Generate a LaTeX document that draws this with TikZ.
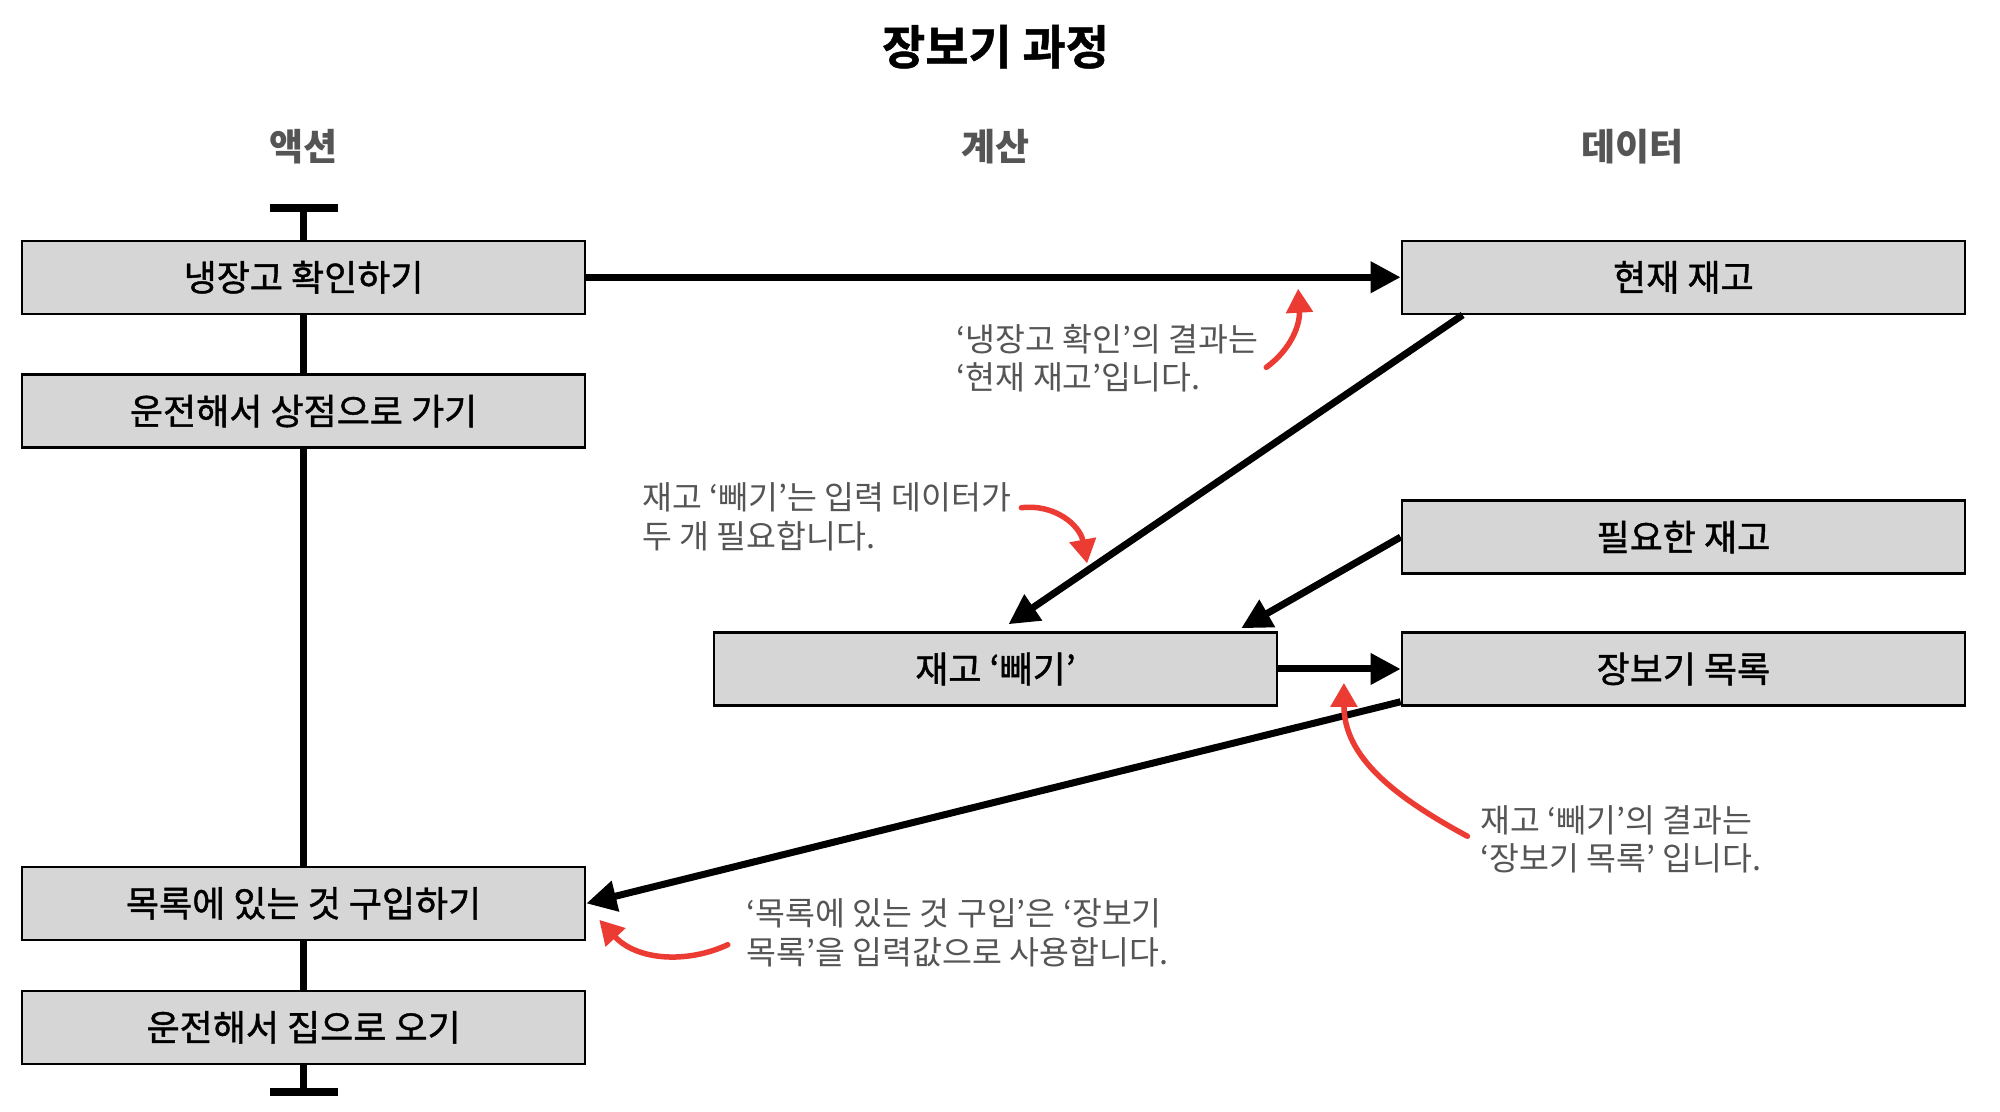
\documentclass[tikz,border=0pt]{standalone}
\usepackage{fontspec}
\setmainfont{Noto Sans CJK KR}
\newfontfamily\medfont[FakeBold=1.2]{Noto Sans CJK KR}
\newfontfamily\titlefont[FakeBold=1]{Noto Sans CJK KR Bold}
\usetikzlibrary{arrows.meta,calc}
\definecolor{boxgray}{RGB}{214,214,214}
\definecolor{txtgray}{RGB}{85,85,85}
\definecolor{annred}{RGB}{235,59,51}
\begin{document}
\begin{tikzpicture}[x=0.9955pt,y=-0.9955pt,
  stepbox/.style={draw=black, line width=2.5pt, fill=boxgray, minimum width=563pt, minimum height=73pt, inner sep=0pt, font=\medfont\fontsize{36}{42}\selectfont},
  flow/.style={line width=7pt, -{Triangle[length=30pt,width=30pt]}},
  redarrow/.style={draw=annred, line width=5.5pt, line cap=round, -{Triangle[length=24pt,width=26pt]}},
  notetext/.style={anchor=west, align=left, text=txtgray, inner sep=0pt, font=\fontsize{32.5}{38.5}\selectfont},
  header/.style={text=txtgray, font=\fontsize{37}{42}\bfseries}
]
\useasboundingbox[fill=white] (0,0) rectangle (2009.04,1116.03);

% title and headers
\node[font=\titlefont\fontsize{47}{54}\selectfont] (title) at (1000,47) {장보기 과정};
\node[header] (h1) at (305,147) {액션};
\node[header] (h2) at (1000,147) {계산};
\node[header] (h3) at (1640,147) {데이터};

% timeline
\coordinate (ttop) at (305,209);
\coordinate (tbot) at (305,1097);
\draw[line width=7pt] (ttop) -- (tbot);
\draw[line width=8pt] ([xshift=-34pt]ttop) -- ([xshift=34pt]ttop);
\draw[line width=8pt] ([xshift=-34pt]tbot) -- ([xshift=34pt]tbot);

% boxes
\node[stepbox] (L1) at (305,278.5) {냉장고 확인하기};
\node[stepbox] (L2) at (305,413) {운전해서 상점으로 가기};
\node[stepbox] (L3) at (305,907.5) {목록에 있는 것 구입하기};
\node[stepbox] (L4) at (305,1032) {운전해서 집으로 오기};
\node[stepbox] (R1) at (1691,278.5) {현재 재고};
\node[stepbox] (R2) at (1691,539.5) {필요한 재고};
\node[stepbox] (R3) at (1691,672) {장보기 목록};
\node[stepbox] (M) at (1000,672) {재고 ‘빼기’};

% flows
\draw[flow] (L1.east) -- (R1.west);
\draw[flow] ([xshift=62pt]R1.south west) -- ([xshift=13pt,yshift=7pt]M.north);
\draw[flow] (R2.west) -- ([xshift=-37pt,yshift=3pt]M.north east);
\draw[flow] (M.east) -- (R3.west);
\draw[flow] ([yshift=5pt]R3.south west) -- (L3.east);

% annotations
\node[notetext] (n1) at (961,360) {‘냉장고 확인’의 결과는\\‘현재 재고’입니다.};
\node[notetext] (n2) at (645,519) {재고 ‘빼기’는 입력 데이터가\\두 개 필요합니다.};
\node[notetext] (n3) at (1487,843) {재고 ‘빼기’의 결과는\\‘장보기 목록’ 입니다.};
\node[notetext] (n4) at (750,937) {‘목록에 있는 것 구입’은 ‘장보기\\목록’을 입력값으로 사용합니다.};

\coordinate (a1s) at (1272,369);
\coordinate (a1e) at (1304,290);
\coordinate (a2s) at (1026,510);
\coordinate (a2e) at (1092,566);
\coordinate (a3s) at (1474,840);
\coordinate (a3e) at (1350,686);
\coordinate (a4s) at (731,949);
\coordinate (a4e) at (602,924);
\draw[redarrow] (a1s) .. controls (1298,350) and (1306,325) .. (a1e);
\draw[redarrow] (a2s) .. controls (1060,506) and (1085,528) .. (a2e);
\draw[redarrow] (a3s) .. controls (1400,800) and (1350,760) .. (a3e);
\draw[redarrow] (a4s) .. controls (690,968) and (640,965) .. (a4e);
\end{tikzpicture}
\end{document}
